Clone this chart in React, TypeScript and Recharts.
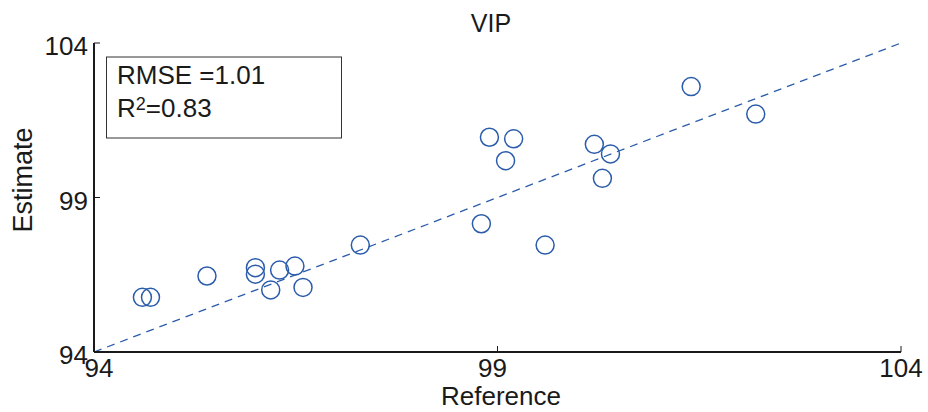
import { ScatterChart, Scatter, XAxis, YAxis, ReferenceLine } from "recharts";

const reference = [94.6, 94.7, 95.4, 96.0, 96.0, 96.19, 96.3, 96.49, 96.59, 97.3, 98.8, 98.9, 99.2, 99.1, 99.59, 100.2, 100.4, 100.3, 101.4, 102.2];
const estimate = [95.77, 95.77, 96.46, 96.73, 96.52, 96.01, 96.65, 96.78, 96.09, 97.46, 98.15, 100.95, 100.9, 100.19, 97.46, 100.72, 100.41, 99.62, 102.59, 101.7];
const axisTicks = [94, 99, 104];
const title = "VIP";
const statsLines = ["RMSE =1.01", "0.83"];

const data = reference.map((r, i) => ({ reference: r, estimate: estimate[i] }));

const blue = "#2b5cab";
const ink = "#1a1a1a";
const font = "'Liberation Sans', Arial, Helvetica, sans-serif";
const frame = { stroke: "#1a1a1a", strokeWidth: 2 };

// tick marks point inward, MATLAB style
const BottomTick = (props: any) => {
  const { x, y, payload, index } = props;
  const dx = index === 0 ? 5 : index === 1 ? -5 : 0;
  return (
    <g>
      <line x1={x} y1={y} x2={x} y2={y - 6} stroke={ink} strokeWidth={1} />
      <text x={x + dx} y={y + 25} textAnchor="middle" fontSize={26} fill={ink} fontFamily={font}>
        {payload.value}
      </text>
    </g>
  );
};

const LeftTick = (props: any) => {
  const { x, y, payload } = props;
  return (
    <g>
      <line x1={x} y1={y} x2={x + 6} y2={y} stroke={ink} strokeWidth={1} />
      <text x={x - 6} y={y + 12} textAnchor="end" fontSize={26} fill={ink} fontFamily={font}>
        {payload.value}
      </text>
    </g>
  );
};

const TopTick = (props: any) => {
  const { x, y } = props;
  return <line x1={x} y1={y} x2={x} y2={y + 6} stroke={ink} strokeWidth={1} />;
};

const RightTick = (props: any) => {
  const { x, y } = props;
  return <line x1={x} y1={y} x2={x - 6} y2={y} stroke={ink} strokeWidth={1} />;
};

const Ring = (props: any) => (
  <circle cx={props.cx} cy={props.cy} r={9} fill="none" stroke={blue} strokeWidth={1.5} />
);

export default function App() {
  return (
    <div style={{ position: "absolute", left: 0, top: 0, width: 928, height: 412, background: "#fff" }}>
      <ScatterChart width={928} height={412} margin={{ top: 43, right: 27, left: 0, bottom: 0 }}>
        <XAxis
          dataKey="reference"
          type="number"
          domain={[94, 104]}
          ticks={axisTicks}
          tick={<BottomTick />}
          tickSize={0}
          tickMargin={0}
          tickLine={false}
          stroke={ink}
          axisLine={frame}
          height={60}
          allowDataOverflow
        />
        <XAxis
          xAxisId="top"
          orientation="top"
          type="number"
          domain={[94, 104]}
          ticks={axisTicks}
          tick={<TopTick />}
          tickSize={0}
          tickMargin={0}
          tickLine={false}
          stroke={ink}
          axisLine={frame}
          height={0}
        />
        <YAxis
          dataKey="estimate"
          type="number"
          domain={[94, 104]}
          ticks={axisTicks}
          tick={<LeftTick />}
          tickSize={0}
          tickMargin={0}
          tickLine={false}
          stroke={ink}
          axisLine={frame}
          width={94}
          allowDataOverflow
        />
        <YAxis
          yAxisId="right"
          orientation="right"
          type="number"
          domain={[94, 104]}
          ticks={axisTicks}
          tick={<RightTick />}
          tickSize={0}
          tickMargin={0}
          tickLine={false}
          stroke={ink}
          axisLine={frame}
          width={0}
        />
        <ReferenceLine
          segment={[{ x: 94, y: 94 }, { x: 104, y: 104 }]}
          stroke={blue}
          strokeWidth={1.3}
          strokeDasharray="8 6"
          ifOverflow="visible"
        />
        <Scatter data={data} shape={<Ring />} isAnimationActive={false} />

        <text x={491} y={32} textAnchor="middle" fontSize={25} fill={ink} fontFamily={font}>
          {title}
        </text>
        <text x={501} y={405} textAnchor="middle" fontSize={26} fill={ink} fontFamily={font}>
          Reference
        </text>
        <text
          x={32}
          y={180}
          textAnchor="middle"
          fontSize={27}
          fill={ink}
          fontFamily={font}
          transform="rotate(-90 32 180)"
        >
          Estimate
        </text>

        <rect x={106.5} y={57} width={235} height={81} fill="#fff" stroke="#333" strokeWidth={1} />
        <text x={117} y={84} fontSize={26} fill={ink} fontFamily={font}>
          {statsLines[0]}
        </text>
        <text x={117} y={117} fontSize={26} fill={ink} fontFamily={font}>
          R<tspan fontSize={18} dy={-7}>2</tspan>
          <tspan fontSize={26} dy={7}>={statsLines[1]}</tspan>
        </text>
      </ScatterChart>
    </div>
  );
}
